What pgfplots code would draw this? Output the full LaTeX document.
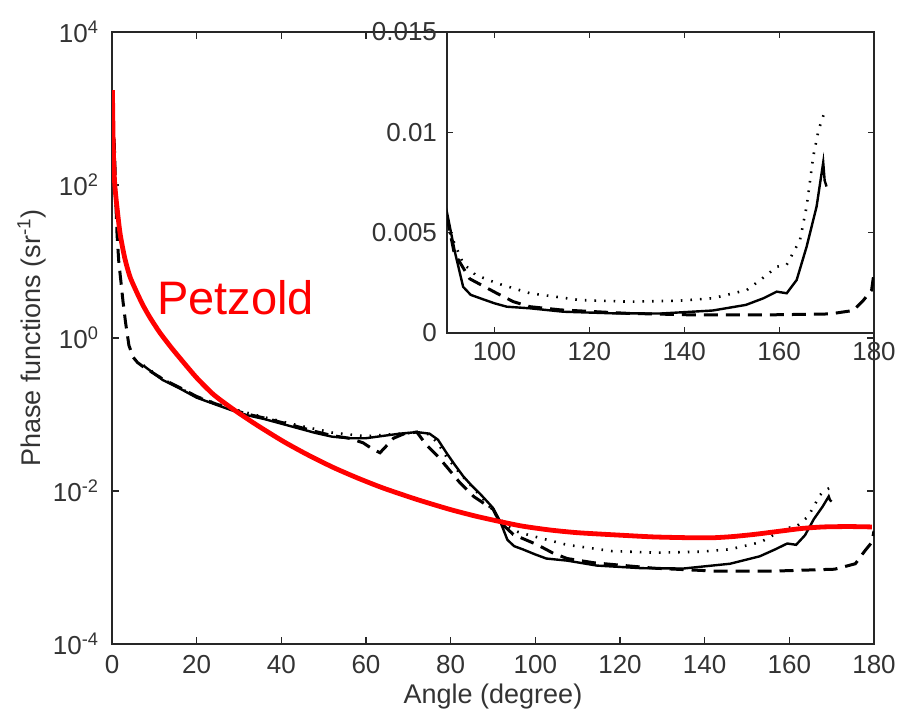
\documentclass[border=0pt]{standalone}
\usepackage{fontspec}
\setmainfont{Liberation Sans}
\usepackage{pgfplots}
\usepackage{pgfplotstable}
\pgfplotsset{compat=1.18}

\pgfplotstableread{
x y
7.4 0.437
10 0.340
12 0.282
16 0.219
20 0.166
24 0.138
28 0.115
32 0.0977
36 0.0871
40 0.0759
44 0.0661
48 0.0575
52 0.0513
56 0.0490
60 0.0490
64 0.0525
68 0.0562
72 0.0589
75 0.0562
77 0.0468
79 0.0316
81 0.0219
83 0.0155
85 0.0117
87 0.00912
89 0.00692
90 0.0060
91.7 0.0040
93.4 0.0023
95 0.0019
97 0.00173
100 0.00148
102.6 0.00131
107.5 0.00123
114.5 0.00106
125 0.00098
135 0.00097
146 0.00112
153 0.0014
156.7 0.00173
159.5 0.00206
161.6 0.00198
163.7 0.00264
165.8 0.0043
167.9 0.0063
169.3 0.0085
169.6 0.0076
170 0.0073
}\solid

\pgfplotstableread{
x y
0.5 400
0.7 180
0.9 60
1.2 22
1.6 10
2.1 5.5
2.6 3.0
3.2 1.6
4.0 0.8
5.0 0.56
6.0 0.48
7.4 0.42
12 0.29
16 0.225
20 0.172
24 0.141
28 0.118
32 0.101
36 0.090
40 0.079
44 0.069
48 0.060
52 0.053
56 0.049
59.3 0.0427
61.5 0.0355
63.3 0.0316
65 0.0398
66.5 0.049
69 0.056
72 0.059
74.3 0.0398
77 0.0282
79 0.0209
82 0.0132
85.4 0.0085
88 0.0068
90 0.0058
91.5 0.0040
94.8 0.0027
100.5 0.00198
104 0.00156
107.5 0.00131
114 0.00115
128 0.00098
142 0.0009
157 0.0009
170.7 0.00095
175.6 0.00112
177.8 0.00164
179.5 0.00214
180 0.0030
}\dashedt

\pgfplotstableread{
x y
7.4 0.44
12 0.29
20 0.17
28 0.12
36 0.092
44 0.072
52 0.058
60 0.052
66 0.055
72 0.058
75 0.055
77 0.042
79 0.028
82 0.0175
85 0.0115
88 0.0075
90.6 0.0050
93.4 0.00347
96 0.0029
100.5 0.00248
107.5 0.00198
118 0.00164
128.6 0.00156
139 0.00161
146 0.00173
153.2 0.00214
157.4 0.00289
159.5 0.0033
161.6 0.0034
164.4 0.00463
165.8 0.0063
167.2 0.0088
168.3 0.0101
169.7 0.0111
}\dotted

\pgfplotstableread{
x y
0.1 1738
0.3 316
0.6 112
1.0 63.1
1.9 23.4
3.0 11.2
4.25 6.31
6 3.80
7.4 2.63
9 1.84
11.3 1.175
14 0.75
16 0.55
20 0.302
24 0.182
28.6 0.1175
34 0.0741
40.4 0.0447
46 0.0302
52.2 0.0204
58 0.0148
64 0.01096
72 0.00776
79.8 0.00575
86 0.00468
91.7 0.00398
97 0.00347
103.5 0.00309
110 0.00285
119.3 0.00266
128 0.00251
136.5 0.00245
142 0.00245
146.7 0.00254
152 0.00272
158.5 0.00302
163 0.00324
168 0.00339
174 0.00343
179.5 0.00339
}\petzold

\begin{document}
\begin{tikzpicture}
\useasboundingbox (0,0) rectangle (457.5pt,358.5pt);
\begin{axis}[
  at={(56pt,36.5pt)}, anchor=south west,
  scale only axis, width=381pt, height=306pt,
  xmin=0, xmax=180, ymin=1e-4, ymax=1e4, ymode=log,
  xtick={0,20,...,180}, xticklabels={0,20,40,60,80,100,120,140,160,180},
  ytick={1e-4,1e-2,1,1e2,1e4},
  yticklabels={10\textsuperscript{-4},10\textsuperscript{-2},10\textsuperscript{0},10\textsuperscript{2},10\textsuperscript{4}},
  minor tick length=0pt,
  major tick length=3.5pt,
  tick align=inside,
  axis line style={black!85, line width=0.7pt},
  every tick/.style={black!85, line width=0.6pt},
  tick label style={font=\fontsize{13}{15}\selectfont, text=black!80},
  xticklabel shift=2pt, yticklabel shift=3pt,
  xlabel={Angle (degree)}, ylabel={Phase functions (sr\textsuperscript{-1})},
  label style={font=\fontsize{13.5}{16}\selectfont, text=black!80},
  xlabel style={at={(axis description cs:0.5,0)}, anchor=base, yshift=-29.5pt},
  ylabel style={at={(axis description cs:-0.105,0.5)}, anchor=center},
]
\addplot[black, line width=1.2pt] table {\solid};
\addplot[black, line width=1.5pt, dash pattern=on 7pt off 4pt] table {\dashedt};
\addplot[black, line width=1.3pt, dash pattern=on 0.8pt off 4pt] table {\dotted};
\addplot[red, line width=2.4pt, smooth, tension=0.4] table {\petzold};
\node[anchor=base west, inner sep=0pt, text=red, font=\fontsize{23.5}{28}\selectfont] at (axis cs:10.6,2) {Petzold};
\end{axis}
\begin{axis}[
  at={(223.5pt,192pt)}, anchor=south west,
  scale only axis, width=213.5pt, height=150.5pt,
  xmin=90, xmax=180, ymin=0, ymax=0.015,
  xtick={100,120,...,180}, xticklabels={100,120,140,160,180},
  ytick={0,0.005,0.01,0.015}, yticklabels={0,0.005,0.01,0.015},
  scaled y ticks=false,
  axis background/.style={fill=white},
  major tick length=3pt,
  tick align=inside,
  axis line style={black!85, line width=0.7pt},
  every tick/.style={black!85, line width=0.6pt},
  tick label style={font=\fontsize{13}{15}\selectfont, text=black!80},
  xticklabel shift=1pt, yticklabel shift=1.5pt,
]
\addplot[black, line width=1.2pt, restrict x to domain=89:180] table {\solid};
\addplot[black, line width=1.5pt, dash pattern=on 7pt off 4pt, restrict x to domain=89:180] table {\dashedt};
\addplot[black, line width=1.3pt, dash pattern=on 0.8pt off 4pt, restrict x to domain=89:180] table {\dotted};
\end{axis}
\end{tikzpicture}
\end{document}
